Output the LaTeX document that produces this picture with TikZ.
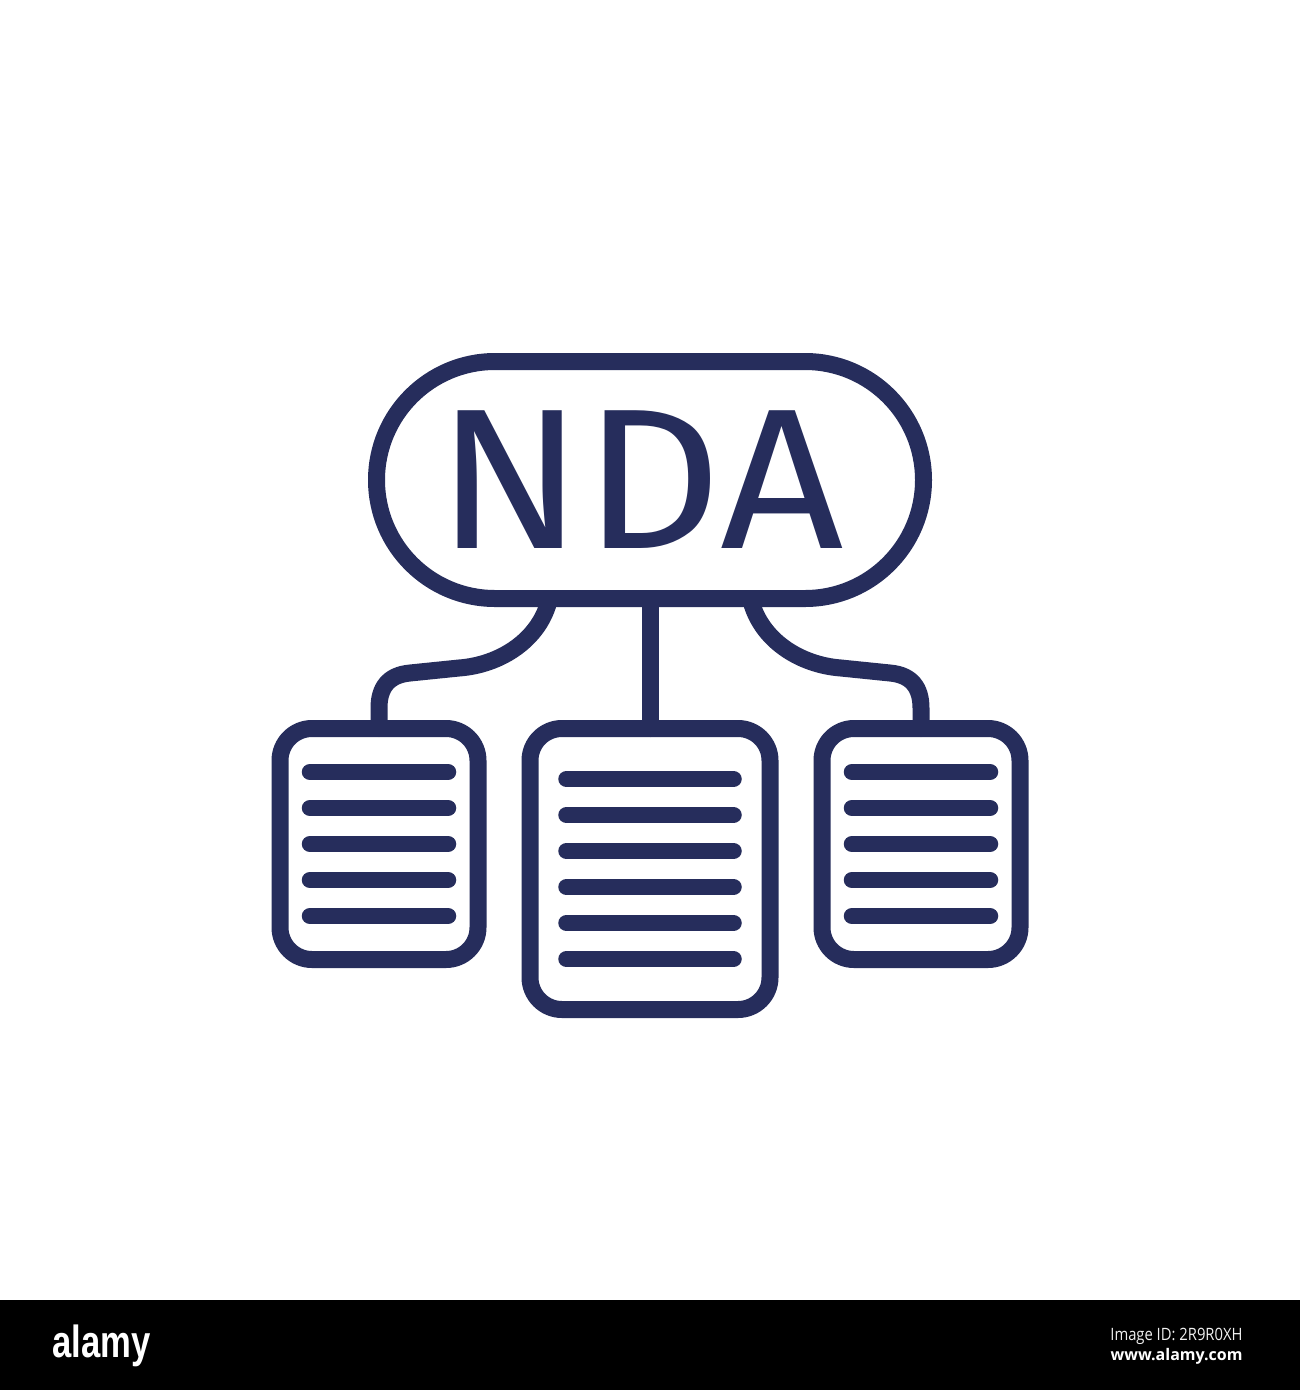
\documentclass[tikz,border=0pt]{standalone}
\usepackage{fontspec}
\usepackage{xcolor}
\usepackage{graphicx}
\usepackage{tikz}
\newfontfamily\ndafont{Fira Sans}
\newfontfamily\logofont{Liberation Sans}
\newfontfamily\idfont{Open Sans}
\definecolor{navy}{HTML}{262D5C}

\begin{document}
\begin{tikzpicture}[x=1pt, y=-1pt, line width=17pt, line cap=round, line join=round,
    pill/.style={draw=navy, rectangle, rounded corners=118.5pt, minimum width=547pt,
      minimum height=237pt, inner sep=0pt, outer sep=0pt},
    doc/.style={draw=navy, rectangle, rounded corners=32pt, inner sep=0pt, outer sep=0pt},
    textline/.style={draw=navy, line width=16.5pt},
    link/.style={draw=navy}]
    \useasboundingbox[fill=white] (0,0) rectangle (1300,1390);

    \node[pill, text=navy] (nda) at (650,480)
        {\hspace*{-20pt}\scalebox{1.078}[1]{\ndafont\fontsize{200}{200}\selectfont NDA}};

    \node[doc, minimum width=198pt, minimum height=231pt] (ldoc) at (379,844) {};
    \node[doc, minimum width=240pt, minimum height=281pt] (mdoc) at (650,869) {};
    \node[doc, minimum width=198pt, minimum height=231pt] (rdoc) at (921,844) {};

    \foreach \dy in {-72,-36,...,72} {
        \draw[textline] ([shift={(-69,\dy)}]ldoc.center) -- ([shift={(69,\dy)}]ldoc.center);
        \draw[textline] ([shift={(-69,\dy)}]rdoc.center) -- ([shift={(69,\dy)}]rdoc.center);
    }
    \foreach \dy in {-90,-54,...,90}
        \draw[textline] ([shift={(-83.5,\dy)}]mdoc.center) -- ([shift={(83.5,\dy)}]mdoc.center);

    \coordinate (lbend) at (459,668);
    \coordinate (lknee) at (410,673);
    \coordinate (rbend) at (841,668);
    \coordinate (rknee) at (890,673);

    \draw[link] (nda.south) -- (mdoc.north);
    \draw[link] ([xshift=-100.4pt]nda.south) .. controls (540,640) and (500,665) .. (lbend)
        -- (lknee) .. controls (388,675) and (379,688) .. (379,708) -- (ldoc.north);
    \draw[link] ([xshift=100.4pt]nda.south) .. controls (760,640) and (800,665) .. (rbend)
        -- (rknee) .. controls (912,675) and (921,688) .. (921,708) -- (rdoc.north);

    \fill[black] (0,1300) rectangle (1300,1390);
    \node[anchor=base west, text=white, inner sep=0pt] (logo) at (44,1357)
        {\scalebox{0.77}[1]{\logofont\bfseries\fontsize{45}{45}\selectfont alamy}};
    \node[anchor=base east, text=white!88!gray, inner sep=0pt] (imgid) at (1251,1340)
        {\scalebox{0.87}[1]{\idfont\fontsize{17}{17}\selectfont Image ID: 2R9R0XH}};
    \node[anchor=base east, text=white, inner sep=0pt] (site) at (1251,1360)
        {\idfont\bfseries\fontsize{16}{16}\selectfont www.alamy.com};
\end{tikzpicture}
\end{document}
